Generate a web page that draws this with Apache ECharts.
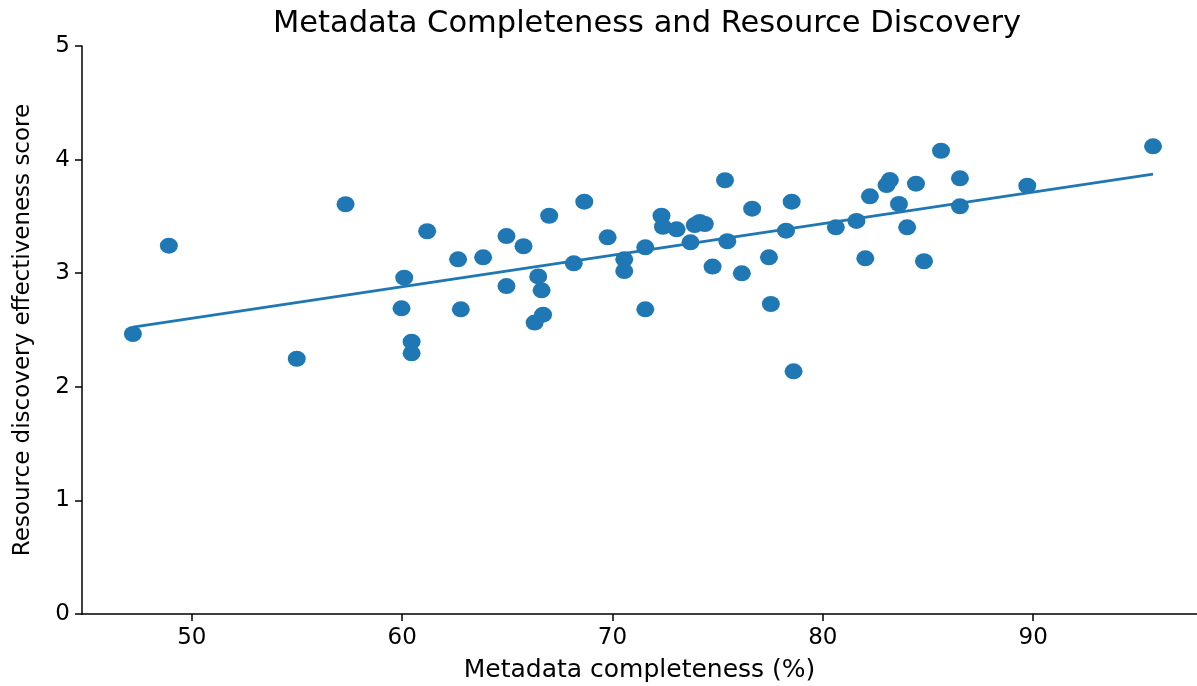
<!DOCTYPE html>
<html>
<head>
<meta charset="utf-8">
<script src="https://cdn.jsdelivr.net/npm/echarts@6/dist/echarts.min.js"></script>
<style>
html,body{margin:0;padding:0;background:#fff;}
#chart{width:1197px;height:686px;}
</style>
</head>
<body>
<div id="chart"></div>
<script>
// Data
const completeness = [47.2, 48.91, 54.99, 57.31, 59.97, 60.10, 60.45, 60.45, 61.19, 62.66,
  62.79, 63.85, 64.96, 64.96, 65.77, 66.47, 66.63, 66.7, 66.3, 66.99,
  68.66, 68.16, 69.77, 70.56, 70.56, 71.56, 71.56, 72.33, 72.4, 73.05,
  73.71, 73.91, 74.15, 74.39, 75.35, 75.46, 74.76, 76.15, 76.64, 77.44,
  77.53, 78.25, 78.52, 78.61, 80.62, 81.60, 82.02, 82.24, 83.03, 83.19,
  83.62, 84.01, 84.43, 84.81, 85.62, 86.52, 86.52, 89.72, 95.70];
const discovery = [2.465, 3.242, 2.247, 3.607, 2.691, 2.961, 2.397, 2.295, 3.369, 3.122,
  2.682, 3.140, 3.327, 2.887, 3.237, 2.972, 2.849, 2.635, 2.565, 3.506,
  3.630, 3.087, 3.316, 3.122, 3.019, 3.228, 2.682, 3.506, 3.409, 3.386,
  3.272, 3.424, 3.451, 3.433, 3.818, 3.281, 3.058, 2.999, 3.568, 3.140,
  2.729, 3.374, 3.630, 2.136, 3.404, 3.460, 3.131, 3.677, 3.776, 3.820,
  3.609, 3.404, 3.788, 3.105, 4.078, 3.835, 3.589, 3.770, 4.117];
// Fitted trend line end points
const trendX = [47.2, 95.7];
const trendY = [2.525, 3.873];
const xTicks = [50, 60, 70, 80, 90];
const yTicks = [0, 1, 2, 3, 4, 5];

const points = completeness.map((x, i) => [x, discovery[i]]);
const trend = trendX.map((x, i) => [x, trendY[i]]);

const FONT = 'DejaVu Sans';
const chart = echarts.init(document.getElementById('chart'), null, {renderer: 'canvas'});
chart.setOption({
  animation: false,
  backgroundColor: '#ffffff',
  title: {
    text: 'Metadata Completeness and Resource Discovery',
    left: 642, top: 4, textAlign: 'center',
    textStyle: {fontFamily: FONT, fontSize: 30.5, fontWeight: 'normal', color: '#000'}
  },
  grid: {left: 82, right: 0, top: 46, bottom: 72, containLabel: false, outerBoundsMode: 'none'},
  xAxis: {
    type: 'value', min: 44.78, max: 97.79,
    name: 'Metadata completeness (%)', nameLocation: 'middle', nameGap: 44,
    nameTextStyle: {fontFamily: FONT, fontSize: 25, color: '#000'},
    axisLine: {show: true, lineStyle: {color: '#000', width: 1.5}},
    axisTick: {show: true, inside: false, length: 7, lineStyle: {color: '#000', width: 1.5}, customValues: xTicks},
    axisLabel: {fontFamily: FONT, fontSize: 23, color: '#000', margin: 13, customValues: xTicks},
    splitLine: {show: false}
  },
  yAxis: {
    type: 'value', min: 0, max: 5, interval: 1,
    name: 'Resource discovery effectiveness score', nameLocation: 'middle', nameGap: 47,
    nameTextStyle: {fontFamily: FONT, fontSize: 23, color: '#000'},
    axisLine: {show: true, lineStyle: {color: '#000', width: 1.5}},
    axisTick: {show: true, inside: false, length: 7, lineStyle: {color: '#000', width: 1.5}},
    axisLabel: {fontFamily: FONT, fontSize: 23, color: '#000', margin: 12},
    splitLine: {show: false}
  },
  series: [
    {
      type: 'scatter', data: points,
      symbol: 'circle', symbolSize: [18, 16],
      itemStyle: {color: '#1f77b4', opacity: 1},
      z: 2
    },
    {
      type: 'line', data: trend, showSymbol: false, symbol: 'none',
      lineStyle: {color: '#1f77b4', width: 2.8},
      z: 3
    }
  ]
});
</script>
</body>
</html>
